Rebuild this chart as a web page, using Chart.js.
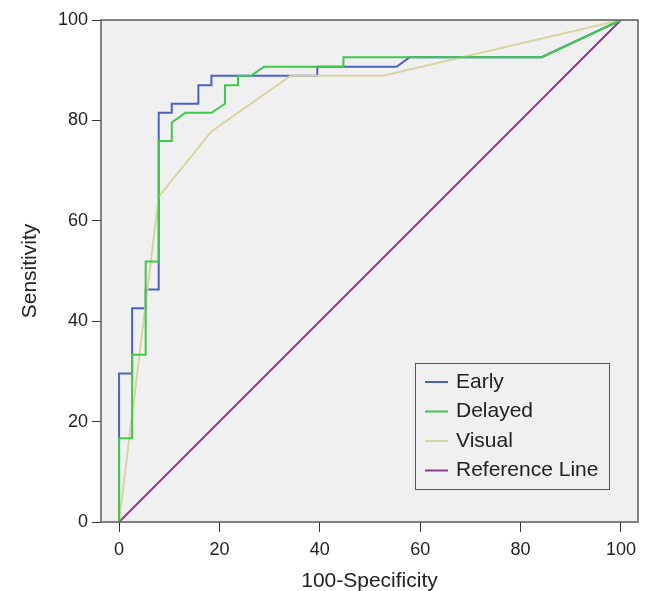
<!DOCTYPE html>
<html>
<head>
<meta charset="utf-8">
<script src="https://cdn.jsdelivr.net/npm/chart.js@4.4.1/dist/chart.umd.min.js"></script>
<style>
html,body{margin:0;padding:0;background:#fff;}
#wrap{width:650px;height:591px;}
</style>
</head>
<body>
<div id="wrap"><canvas id="c" width="650" height="591"></canvas></div>
<script>
// ---- data ----
const earlyX   = [0, 0, 2.6, 2.6, 5.3, 5.3, 7.9, 7.9, 10.5, 10.5, 15.8, 15.8, 18.4, 18.4, 39.5, 39.5, 55.3, 57.9, 84.2, 100];
const earlyY   = [0, 29.6, 29.6, 42.6, 42.6, 46.3, 46.3, 81.5, 81.5, 83.3, 83.3, 87.0, 87.0, 88.9, 88.9, 90.7, 90.7, 92.6, 92.6, 100];
const delayedX = [0, 0, 2.6, 2.6, 5.3, 5.3, 7.9, 7.9, 10.5, 10.5, 13.2, 18.4, 21.1, 21.1, 23.7, 23.7, 26.3, 28.9, 44.7, 44.7, 84.2, 100];
const delayedY = [0, 16.7, 16.7, 33.3, 33.3, 51.9, 51.9, 75.9, 75.9, 79.6, 81.5, 81.5, 83.3, 87.0, 87.0, 88.9, 88.9, 90.7, 90.7, 92.6, 92.6, 100];
const visualX  = [0, 7.9, 18.4, 34.2, 52.6, 100];
const visualY  = [0, 64.8, 77.8, 88.9, 88.9, 100];
const refX     = [0, 100];
const refY     = [0, 100];
const seriesLabels = ['Early', 'Delayed', 'Visual', 'Reference Line'];
const xTicks = [0, 20, 40, 60, 80, 100];
const yTicks = [0, 20, 40, 60, 80, 100];
const xTitle = '100-Specificity';
const yTitle = 'Sensitivity';

const colors = ['#4a62c2', '#3ec84c', '#d8d3a3', '#8a3a8c'];
const pts = (xs, ys) => xs.map((x, i) => ({x: x, y: ys[i]}));
const FONT = 'Arial, "Liberation Sans", sans-serif';

const bgPlugin = {
  id: 'bgFrame',
  beforeDatasetsDraw(chart) {
    const a = chart.chartArea, ctx = chart.ctx;
    ctx.save();
    ctx.fillStyle = '#f0f0f0';
    ctx.fillRect(a.left, a.top, a.right - a.left, a.bottom - a.top);
    ctx.restore();
  },
  afterDatasetsDraw(chart) {
    const a = chart.chartArea, ctx = chart.ctx;
    ctx.save();
    ctx.strokeStyle = '#5a5a5a';
    ctx.lineWidth = 1.5;
    ctx.strokeRect(a.left, a.top, a.right - a.left, a.bottom - a.top);
    // legend box
    const lx = 415.5, ly = 363.5, lw = 194, lh = 126;
    ctx.fillStyle = '#f0f0f0';
    ctx.fillRect(lx, ly, lw, lh);
    ctx.strokeStyle = '#555';
    ctx.lineWidth = 1;
    ctx.strokeRect(lx, ly, lw, lh);
    ctx.font = '21px ' + FONT;
    ctx.textBaseline = 'middle';
    ctx.textAlign = 'left';
    [0, 1, 2, 3].forEach((di, i) => {
      const ds = chart.data.datasets[di];
      const y = 382 + i * 29.5;
      ctx.strokeStyle = ds.borderColor;
      ctx.lineWidth = 2;
      ctx.beginPath();
      ctx.moveTo(425, y);
      ctx.lineTo(448, y);
      ctx.stroke();
      ctx.fillStyle = '#222';
      ctx.fillText(ds.label, 456, y);
    });
    ctx.restore();
  }
};

new Chart(document.getElementById('c'), {
  type: 'line',
  data: {
    datasets: [
      {label: seriesLabels[0], data: pts(earlyX, earlyY), borderColor: colors[0], order: 2},
      {label: seriesLabels[1], data: pts(delayedX, delayedY), borderColor: colors[1], order: 0},
      {label: seriesLabels[2], data: pts(visualX, visualY), borderColor: colors[2], order: 1},
      {label: seriesLabels[3], data: pts(refX, refY), borderColor: colors[3], order: 3}
    ]
  },
  options: {
    responsive: false,
    animation: false,
    devicePixelRatio: 1,
    layout: {padding: {top: 20, right: 12, left: 0, bottom: 0}},
    elements: {
      line: {borderWidth: 2, tension: 0, fill: false},
      point: {radius: 0, hoverRadius: 0}
    },
    plugins: {legend: {display: false}, tooltip: {enabled: false}},
    scales: {
      x: {
        type: 'linear',
        min: -3.6, max: 103.4,
        afterBuildTicks(s) { s.ticks = xTicks.map(v => ({value: v})); },
        afterFit(s) { s.height = 69; },
        grid: {drawOnChartArea: false, drawTicks: true, tickLength: 10, color: '#333', lineWidth: 1},
        border: {display: false},
        ticks: {padding: 7, color: '#222', font: {family: FONT, size: 18}},
        title: {display: true, text: xTitle, color: '#222', padding: {top: 0, bottom: -3},
                font: {family: FONT, size: 21}}
      },
      y: {
        type: 'linear',
        min: 0, max: 100,
        afterBuildTicks(s) { s.ticks = yTicks.map(v => ({value: v})); },
        afterFit(s) { s.width = 101; },
        grid: {drawOnChartArea: false, drawTicks: true, tickLength: 9, color: '#333', lineWidth: 1},
        border: {display: false},
        ticks: {padding: 4, color: '#222', font: {family: FONT, size: 18}},
        title: {display: true, text: yTitle, color: '#222', padding: {top: 18, bottom: 0},
                font: {family: FONT, size: 21}}
      }
    }
  },
  plugins: [bgPlugin]
});
</script>
</body>
</html>
